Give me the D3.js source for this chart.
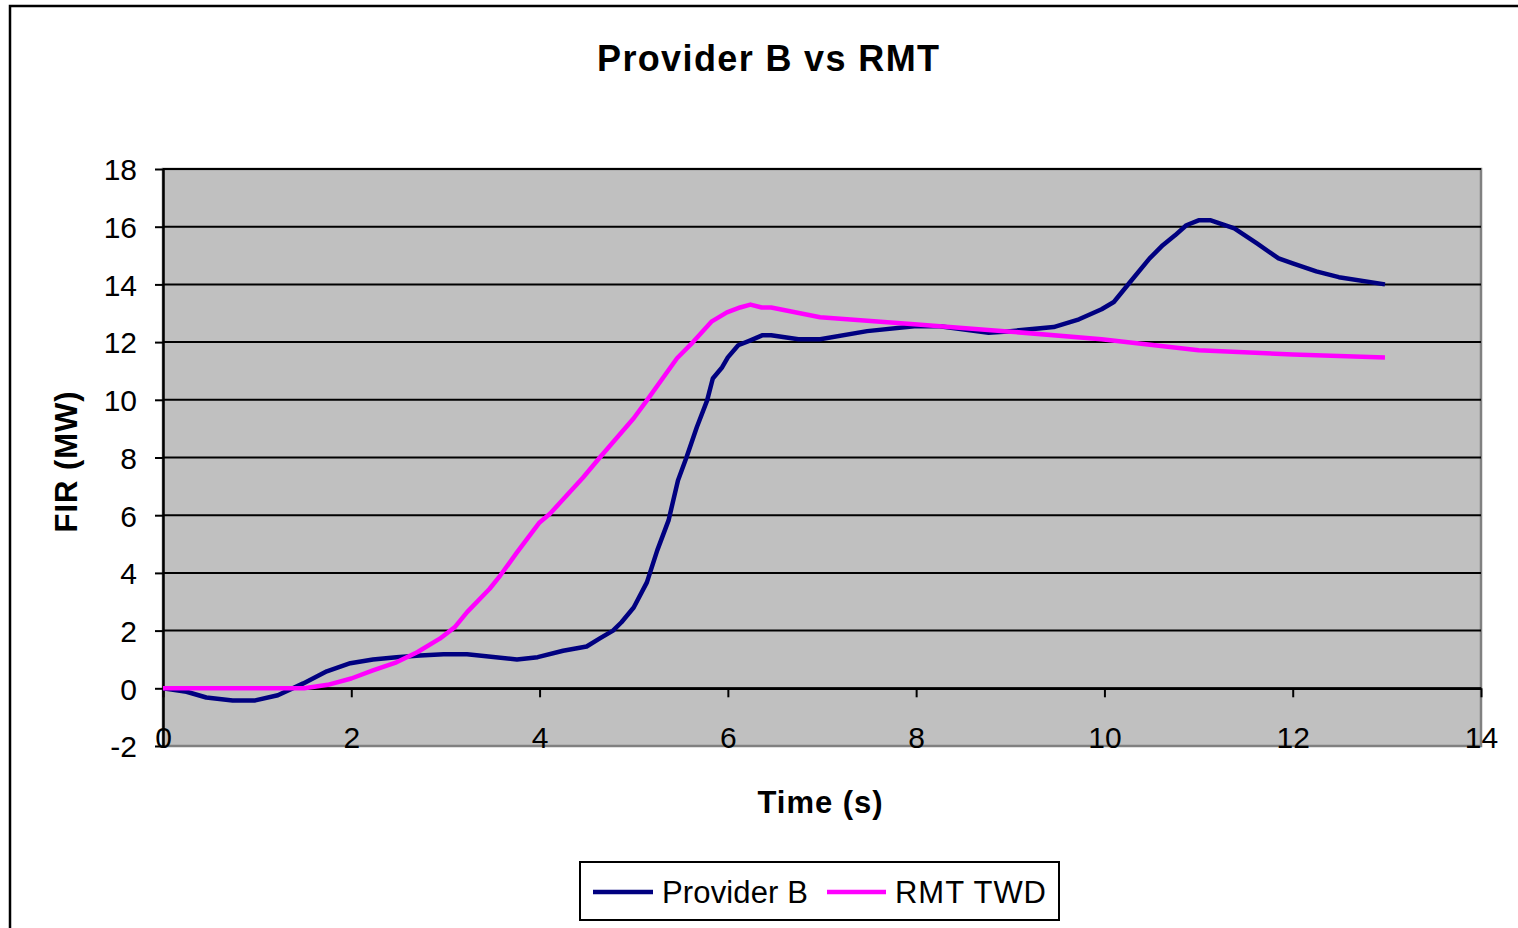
<!DOCTYPE html>
<html>
<head>
<meta charset="utf-8">
<script src="https://cdn.jsdelivr.net/npm/d3@7"></script>
<style>
  html, body { margin: 0; padding: 0; background: #fff; }
  svg { display: block; font-family: "Liberation Sans", Arial, sans-serif; }
</style>
</head>
<body>
<svg id="chart" width="1518" height="928"></svg>
<script>
// ---- data ----
const title = "Provider B vs RMT";
const xTitle = "Time (s)";
const yTitle = "FIR (MW)";
const seriesNames = ["Provider B", "RMT TWD"];
const seriesColors = ["#000080", "#FF00FF"];

const providerBTime = [0, 0.25, 0.46, 0.74, 0.98, 1.22, 1.49, 1.74, 1.99, 2.23, 2.48, 2.73, 2.98, 3.23, 3.76, 3.98, 4.25, 4.5, 4.64, 4.78, 4.87, 5.0, 5.14, 5.25, 5.37, 5.47, 5.56, 5.67, 5.78, 5.84, 5.94, 6.0, 6.11, 6.24, 6.37, 6.46, 6.75, 6.98, 7.48, 7.98, 8.25, 8.77, 8.97, 9.46, 9.73, 9.97, 10.1, 10.26, 10.48, 10.62, 10.75, 10.87, 11.0, 11.13, 11.38, 11.62, 11.85, 12.0, 12.25, 12.49, 12.98];
const providerBValue = [0, -0.12, -0.32, -0.42, -0.42, -0.24, 0.17, 0.59, 0.87, 1.0, 1.08, 1.14, 1.18, 1.18, 1.0, 1.08, 1.3, 1.45, 1.73, 2.0, 2.29, 2.8, 3.67, 4.78, 5.82, 7.2, 8.0, 9.05, 9.98, 10.74, 11.13, 11.47, 11.89, 12.06, 12.24, 12.24, 12.1, 12.1, 12.38, 12.55, 12.55, 12.32, 12.37, 12.52, 12.79, 13.14, 13.39, 14.03, 14.9, 15.36, 15.7, 16.05, 16.22, 16.22, 15.94, 15.42, 14.9, 14.73, 14.45, 14.25, 14.0];

const rmtTime = [0, 0.5, 1.0, 1.5, 1.75, 2.0, 2.23, 2.48, 2.7, 2.94, 3.1, 3.23, 3.47, 3.58, 3.76, 4.0, 4.11, 4.46, 4.64, 5.0, 5.14, 5.46, 5.63, 5.83, 5.99, 6.13, 6.24, 6.36, 6.46, 6.98, 7.98, 8.97, 9.97, 11.0, 12.0, 12.98];
const rmtValue = [0, 0, 0, 0, 0.12, 0.34, 0.62, 0.9, 1.25, 1.72, 2.12, 2.64, 3.45, 3.9, 4.71, 5.75, 6.05, 7.3, 8.0, 9.36, 9.98, 11.44, 12.0, 12.72, 13.03, 13.2, 13.3, 13.2, 13.2, 12.86, 12.62, 12.37, 12.1, 11.72, 11.57, 11.47];

const xTicks = [0, 2, 4, 6, 8, 10, 12, 14];
const yTicks = [-2, 0, 2, 4, 6, 8, 10, 12, 14, 16, 18];

// ---- layout ----
const svg = d3.select("#chart");
const plot = { left: 163, top: 169, right: 1481, bottom: 746 };

const x = d3.scaleLinear().domain([0, 14]).range([plot.left, plot.right]);
const y = d3.scaleLinear().domain([-2, 18]).range([plot.bottom, plot.top]);
const fmt = d => String(d);

// outer chart border
svg.append("rect")
  .attr("x", 10).attr("y", 6)
  .attr("width", 1530).attr("height", 940)
  .attr("fill", "#fff").attr("stroke", "#000").attr("stroke-width", 2.5);

// plot background
svg.append("rect")
  .attr("x", plot.left).attr("y", plot.top)
  .attr("width", plot.right - plot.left).attr("height", plot.bottom - plot.top)
  .attr("fill", "#C0C0C0").attr("stroke", "#808080").attr("stroke-width", 2.5);

// gridlines
svg.append("g").selectAll("line")
  .data(yTicks.filter(d => d > -2))
  .join("line")
  .attr("x1", plot.left).attr("x2", plot.right)
  .attr("y1", d => y(d)).attr("y2", d => y(d))
  .attr("stroke", "#000").attr("stroke-width", 2);

// y axis
const yAxis = svg.append("g")
  .attr("transform", `translate(${plot.left},0)`)
  .call(d3.axisLeft(y).tickValues(yTicks).tickSize(8).tickSizeOuter(0).tickFormat(fmt));
yAxis.select(".domain").attr("stroke", "#000").attr("stroke-width", 2.5);
yAxis.selectAll(".tick line").attr("stroke", "#000").attr("stroke-width", 2);
yAxis.selectAll(".tick text")
  .attr("x", -26).attr("dy", "0.36em")
  .attr("font-size", 30).attr("fill", "#000")
  .attr("font-family", "'Liberation Sans', Arial, sans-serif");

// x axis (crosses at y = 0)
const xAxis = svg.append("g")
  .attr("transform", `translate(0,${y(0)})`)
  .call(d3.axisBottom(x).tickValues(xTicks).tickSize(9).tickSizeOuter(0).tickFormat(fmt));
xAxis.select(".domain").attr("stroke", "#000").attr("stroke-width", 2.5);
xAxis.selectAll(".tick line").attr("stroke", "#000").attr("stroke-width", 2);
xAxis.selectAll(".tick text")
  .attr("y", y(-2) - y(0) - 9).attr("dy", "0.36em")
  .attr("font-size", 30).attr("fill", "#000")
  .attr("font-family", "'Liberation Sans', Arial, sans-serif");

// lines
const line = d3.line().x(d => x(d[0])).y(d => y(d[1]));
const series = [
  providerBTime.map((t, i) => [t, providerBValue[i]]),
  rmtTime.map((t, i) => [t, rmtValue[i]])
];
svg.append("g").selectAll("path")
  .data(series)
  .join("path")
  .attr("d", line)
  .attr("fill", "none")
  .attr("stroke", (d, i) => seriesColors[i])
  .attr("stroke-width", 4.5)
  .attr("stroke-linejoin", "round");

// title
svg.append("text")
  .attr("x", 768).attr("y", 71)
  .attr("text-anchor", "middle")
  .attr("font-size", 36).attr("font-weight", "bold")
  .attr("textLength", 342).attr("lengthAdjust", "spacing")
  .text(title);

// axis titles
svg.append("text")
  .attr("x", 820).attr("y", 813)
  .attr("text-anchor", "middle")
  .attr("font-size", 31).attr("font-weight", "bold")
  .attr("textLength", 125).attr("lengthAdjust", "spacing")
  .text(xTitle);

svg.append("text")
  .attr("transform", "translate(77,462) rotate(-90)")
  .attr("text-anchor", "middle")
  .attr("font-size", 31).attr("font-weight", "bold")
  .attr("textLength", 141).attr("lengthAdjust", "spacing")
  .text(yTitle);

// legend
const legend = svg.append("g");
legend.append("rect")
  .attr("x", 580).attr("y", 862)
  .attr("width", 479).attr("height", 58)
  .attr("fill", "#fff").attr("stroke", "#000").attr("stroke-width", 2);
const legendItems = [
  { x1: 593, x2: 653, tx: 662, len: 146 },
  { x1: 827, x2: 886, tx: 895, len: 151 }
];
legendItems.forEach((it, i) => {
  legend.append("line")
    .attr("x1", it.x1).attr("x2", it.x2)
    .attr("y1", 892).attr("y2", 892)
    .attr("stroke", seriesColors[i]).attr("stroke-width", 4.5);
  legend.append("text")
    .attr("x", it.tx).attr("y", 903)
    .attr("font-size", 31)
    .attr("textLength", it.len).attr("lengthAdjust", "spacing")
    .text(seriesNames[i]);
});
</script>
</body>
</html>
